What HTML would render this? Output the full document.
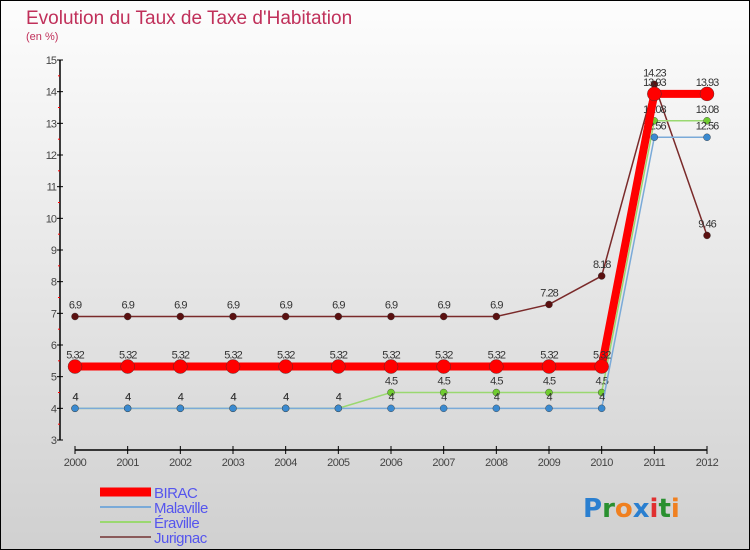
<!DOCTYPE html>
<html><head><meta charset="utf-8"><style>
body{margin:0;width:750px;height:550px;overflow:hidden;font-family:"Liberation Sans",sans-serif}
svg{display:block}
</style></head><body>
<svg id="c" width="750" height="550" xmlns="http://www.w3.org/2000/svg">
<defs><linearGradient id="bg" x1="0" y1="0" x2="0" y2="1"><stop offset="0" stop-color="#fdfdfd"/><stop offset="1" stop-color="#d0d0d0"/></linearGradient></defs>
<rect x="0.5" y="0.5" width="749" height="549" fill="url(#bg)" stroke="#000"/>
<text x="26" y="24" font-size="19" fill="#c0305a">Evolution du Taux de Taxe d'Habitation</text>
<text x="26" y="40" font-size="11" fill="#c0305a">(en %)</text>
<g id="axes"></g><g id="series"></g><g id="legend"></g>
<text x="583" y="517" font-size="26" font-family="DejaVu Sans,sans-serif" font-weight="bold"><tspan fill="#2a7fd0">P</tspan><tspan fill="#2a9030">r</tspan><tspan fill="#f08020">o</tspan><tspan fill="#2a7fd0">x</tspan><tspan fill="#e03030">i</tspan><tspan fill="#2a9030">t</tspan><tspan fill="#f08020">i</tspan></text>
</svg>
<script>
const years=[2000,2001,2002,2003,2004,2005,2006,2007,2008,2009,2010,2011,2012];
const yTicks=[3,4,5,6,7,8,9,10,11,12,13,14,15];
const seriesNames=["BIRAC","Malaville","Éraville","Jurignac"];
const birac=[5.32,5.32,5.32,5.32,5.32,5.32,5.32,5.32,5.32,5.32,5.32,13.93,13.93];
const malaville=[4,4,4,4,4,4,4,4,4,4,4,12.56,12.56];
const eraville=[4,4,4,4,4,4,4.5,4.5,4.5,4.5,4.5,13.08,13.08];
const jurignac=[6.9,6.9,6.9,6.9,6.9,6.9,6.9,6.9,6.9,7.28,8.18,14.23,9.46];
const NS="http://www.w3.org/2000/svg";
const X=i=>75+i*(707-75)/12, Y=v=>440-(v-3)*(380/12);
function mk(t,a,p){const e=document.createElementNS(NS,t);for(const k in a)e.setAttribute(k,a[k]);(p||document.getElementById('c')).appendChild(e);return e;}
const ax=document.getElementById('axes');
let e=mk('line',{x1:60,y1:Y(15),x2:60,y2:Y(3),stroke:'#000','stroke-width':1.5},ax);

e=mk('line',{x1:75,y1:450,x2:707,y2:450,stroke:'#000','stroke-width':1.5},ax);

yTicks.forEach(v=>{mk('line',{x1:57,x2:63,y1:Y(v),y2:Y(v),stroke:'#000'},ax);
 if(v<15)mk('line',{x1:58,x2:60,y1:Y(v+0.5),y2:Y(v+0.5),stroke:'#f00'},ax);
 const t=mk('text',{x:56,y:Y(v)+4,'font-size':11,'text-anchor':'end',fill:'#444','letter-spacing':'-1'},ax);t.textContent=v;
 });
years.forEach((y,i)=>{mk('line',{x1:X(i),x2:X(i),y1:446,y2:454,stroke:'#000'},ax);
 const t=mk('text',{x:X(i),y:466,'font-size':11,'text-anchor':'middle',fill:'#444','letter-spacing':'-0.5'},ax);t.textContent=y;
 });
const sg=document.getElementById('series');
const defs=[[jurignac,'#7a2a2a',1.5,3.5,'#5a1010','jurignac'],[eraville,'#9ad870',1.5,3.5,'#70cc30','eraville'],[malaville,'#7aaad8',1.5,3.5,'#3a8ad0','malaville'],[birac,'#f00',8,7,'#f00','birac']];
defs.forEach(([d,c,w,r,mc,n])=>{
 const p=mk('polyline',{points:d.map((v,i)=>X(i)+','+Y(v)).join(' '),fill:'none',stroke:c,'stroke-width':w},sg);
 
 d.forEach((v,i)=>{const m=mk('circle',{cx:X(i),cy:Y(v),r:r,fill:mc,stroke:'#333','stroke-width':0.4},sg);
  
  const t=mk('text',{x:X(i),y:Y(v)-8,'font-size':11,'text-anchor':'middle',fill:'#333','letter-spacing':'-1'},sg);t.textContent=v;
  });
});
const lg=document.getElementById('legend');
const lc=['#f00','#7aaad8','#9ad870','#8a5a5a'],lw=[9,2,2,2];
seriesNames.forEach((n,i)=>{const y=492+i*15;
 const l=mk('line',{x1:100,x2:151,y1:y,y2:y,stroke:lc[i],'stroke-width':lw[i]},lg);
 
 const t=mk('text',{x:154,y:y+6,'font-size':15,fill:'#5555ee','letter-spacing':'-0.5'},lg);t.textContent=n;
 });
</script>
</body></html>
